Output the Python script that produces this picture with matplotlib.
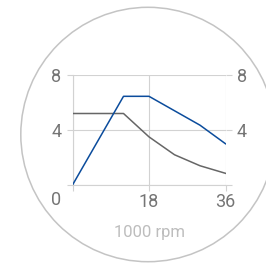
import numpy as np
import matplotlib
matplotlib.use('Agg')
import matplotlib.pyplot as plt
from matplotlib.patches import Circle

plt.rcParams['font.family'] = ['Roboto', 'DejaVu Sans']

# Data
rpm_blue = [0, 12, 18, 30, 36]
val_blue = [0, 6.45, 6.45, 4.35, 3.0]
rpm_gray = [0, 12, 18, 24, 30, 36]
val_gray = [5.2, 5.2, 3.5, 2.2, 1.4, 0.85]
x_ticks = [18, 36]
y_ticks = [4, 8]

grid_col = '#d2d2d2'
label_col = '#757575'

fig = plt.figure(figsize=(2.66, 2.66), dpi=100)
ax = fig.add_axes([72.5 / 266, 1 - 185 / 266, 153 / 266, 110 / 266])

# circle frame
fig.patches.append(Circle((148 / 266, 1 - 134.5 / 266), 127.2 / 266,
                          transform=fig.transFigure, fill=False,
                          edgecolor='#c4c4c4', linewidth=1.1))

ax.plot(rpm_gray, val_gray, color='#666666', linewidth=1.1, zorder=3)
ax.plot(rpm_blue, val_blue, color='#0b4c9c', linewidth=1.1, zorder=4)

ax.set_xlim(0, 36)
ax.set_ylim(0, 8)
ax.set_xticks([0] + x_ticks)
ax.set_xticklabels([''] + [str(t) for t in x_ticks])
ax.set_yticks([0] + y_ticks)
ax.set_yticklabels([''] + [str(t) for t in y_ticks])
ax.tick_params(axis='both', length=4, width=0.8, color=grid_col,
               labelsize=13, labelcolor=label_col, pad=2)
ax.tick_params(axis='y', right=True, labelright=True, pad=4)
ax.grid(True, color=grid_col, linewidth=0.8)
for s in ax.spines.values():
    s.set_color(grid_col)
    s.set_linewidth(0.8)
ax.spines['top'].set_visible(False)
ax.spines['right'].set_visible(False)

ax.text(-0.11, -0.14, '0', transform=ax.transAxes, ha='center', va='center',
        fontsize=13, color=label_col)
ax.set_xlabel('1000 rpm', fontsize=12, color='#bdbdbd', labelpad=10)

fig.savefig('out.png', dpi=100)
